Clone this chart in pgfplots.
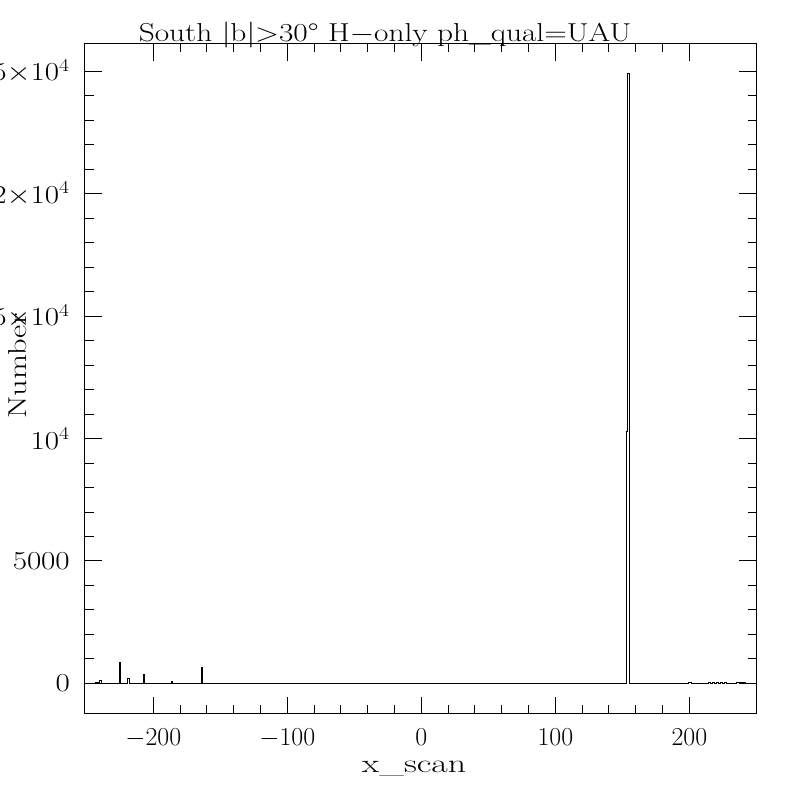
\RequirePackage{fix-cm}
\documentclass[border=0pt]{standalone}
\usepackage{graphicx}
\usepackage{pgfplots}
\pgfplotsset{compat=1.18}
\newcommand{\ys}[1]{\scalebox{1.2}[1]{#1}}
\begin{document}
\begin{tikzpicture}
\useasboundingbox (-85bp,-86bp) rectangle (715bp,714bp);
\begin{axis}[
  at={(0,0)}, anchor=south west,
  scale only axis, width=671bp, height=670bp,
  xmin=-251, xmax=249.7, ymin=-1253, ymax=26122,
  xtick={-200,-100,0,100,200}, minor x tick num=4,
  ytick={0,5000,10000,15000,20000,25000},
  yticklabels={\ys{$0$},\ys{$5000$},\ys{$10^4$},\ys{$1.5{\times}10^4$},\ys{$2{\times}10^4$},\ys{$2.5{\times}10^4$}},
  minor y tick num=4,
  scaled ticks=false,
  xtick pos=both, ytick pos=both,
  xticklabel pos=lower, yticklabel pos=left,
  major tick length=17bp, minor tick length=8.5bp,
  tick align=inside,
  every tick/.style={black, line width=1bp},
  every minor tick/.style={black, line width=1bp},
  axis line style={black, line width=1bp},
  ticklabel style={font=\fontsize{26}{30}\selectfont},
  xticklabel style={anchor=base, inner sep=0pt, yshift=-32bp},
  yticklabel style={anchor=east, inner sep=0pt, xshift=-15bp},
]
\addplot[const plot mark left, black, line width=1bp, mark=none] coordinates {
(-251,0) (-242.8,40) (-240.3,110) (-239,0) (-225.2,860) (-224.5,0)
(-219.6,190) (-218.1,0) (-207.6,355) (-206.4,0) (-186.8,65) (-186,0)
(-164.2,660) (-163.4,0) (153.1,10270) (153.9,24900) (155.0,0)
(199.2,40) (201.7,0) (214,25) (215.5,0) (217,25) (218.5,0) (220,25) (221.5,0)
(223,25) (224.5,0) (226.5,25) (228,0) (235,25) (242,0) (249.7,0)
};
\end{axis}
\node[anchor=base, inner sep=0pt, font=\fontsize{26}{30}\selectfont] at (300bp,672bp) {\scalebox{1.21}[1]{South |b|>30° H$-$only ph\_qual=UAU}};
\node[anchor=base, inner sep=0pt, font=\fontsize{26}{30}\selectfont] at (329bp,-58bp) {\scalebox{1.38}[1]{x\_scan}};
\node[rotate=90, anchor=base, inner sep=0pt, font=\fontsize{26}{30}\selectfont] at (-58bp,348bp) {\scalebox{1.25}[1]{Number}};
\end{tikzpicture}
\end{document}
